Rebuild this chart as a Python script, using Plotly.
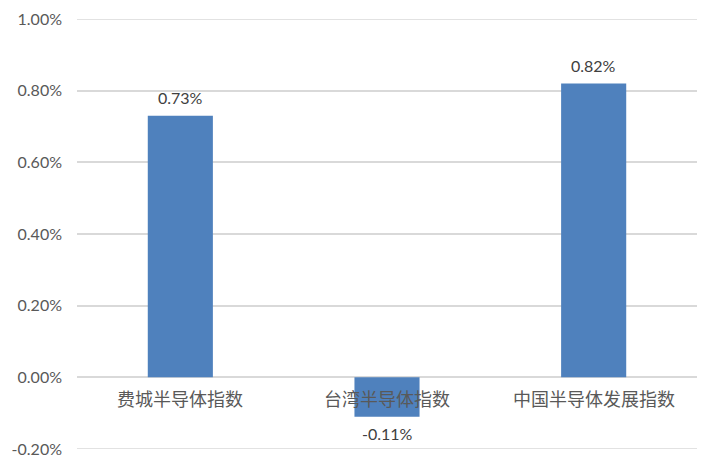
import plotly.graph_objects as go

categories = ["费城半导体指数", "台湾半导体指数", "中国半导体发展指数"]
values = [0.0073, -0.0011, 0.0082]
label_texts = ["0.73%", "-0.11%", "0.82%"]
tick_vals = [-0.002, 0.0, 0.002, 0.004, 0.006, 0.008, 0.010]
tick_text = ["-0.20%", "0.00%", "0.20%", "0.40%", "0.60%", "0.80%", "1.00%"]

NUM_FONT = "Lato, Open Sans, sans-serif"

fig = go.Figure()
fig.add_trace(go.Bar(
    x=categories, y=values,
    marker=dict(color="#4F81BD", line=dict(width=0)),
    width=0.315,
))

for c, v, t in zip(categories, values, label_texts):
    fig.add_annotation(x=c, y=v, xref="x", yref="y", text=t, showarrow=False,
                       yanchor="bottom" if v >= 0 else "top",
                       yshift=7 if v >= 0 else -5,
                       font=dict(family=NUM_FONT, size=16, color="#404040"))

for c in categories:
    fig.add_annotation(x=c, y=0, xref="x", yref="y", text=c, showarrow=False,
                       yanchor="top", yshift=-6,
                       font=dict(family="Noto Sans CJK SC", size=18, color="#595959"))

for tv in (tick_vals[0], tick_vals[-1]):
    fig.add_shape(type="line", xref="paper", yref="y", x0=0, x1=1, y0=tv, y1=tv,
                  line=dict(color="#D9D9D9", width=1.5), layer="below")

fig.update_layout(
    width=717, height=469,
    margin=dict(l=69, r=28, t=11, b=28),
    plot_bgcolor="white", paper_bgcolor="white",
    showlegend=False,
    xaxis=dict(showticklabels=False, showgrid=False, zeroline=False, showline=False, ticks="",
               automargin=False),
    yaxis=dict(range=[tick_vals[0], tick_vals[-1]], tickvals=tick_vals, ticktext=tick_text,
               showgrid=True, gridcolor="#D9D9D9", gridwidth=1.5,
               zeroline=True, zerolinecolor="#D9D9D9", zerolinewidth=1.5,
               showline=False, ticks="", ticklen=0, ticklabelstandoff=14,
               automargin=False,
               tickfont=dict(family=NUM_FONT, size=16, color="#595959")),
)
fig.write_html("out.html")
